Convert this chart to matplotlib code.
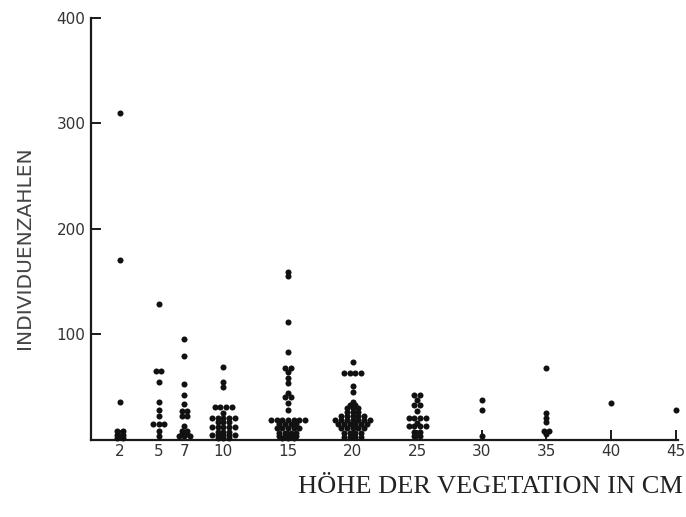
import matplotlib
matplotlib.use("Agg")
import matplotlib.pyplot as plt
from collections import Counter

# vegetation height (cm) -> individual counts
heights = [2, 5, 7, 10, 15, 20, 25, 30, 35, 40, 45]

h2 = [310, 170, 35, 8, 8, 4, 4, 1, 1]
h5 = [128, 65, 65, 54, 35, 28, 22, 14, 14, 14, 8, 3]
h7 = [95, 79, 52, 42, 33, 27, 27, 22, 22, 12, 8, 8, 5, 5, 3, 3, 3]
h10 = [68, 54, 49, 30, 30, 30, 30, 25, 20, 20, 20, 20, 20, 16, 16, 16,
       11, 11, 11, 11, 11, 7, 7, 7, 4, 4, 4, 4, 4, 1, 1, 1]
h15 = [159, 155, 111, 83, 67, 67, 64, 58, 53, 44, 40, 40, 34, 28,
       18, 18, 18, 18, 18, 18, 18, 14, 14, 14, 14, 10, 10, 10, 10, 10,
       6, 6, 6, 6, 3, 3, 3, 3, 1, 1, 1]
h20 = [73, 63, 63, 63, 63, 50, 45, 35, 32, 32, 29, 29, 29, 26, 26, 26,
       22, 22, 22, 22, 22, 18, 18, 18, 18, 18, 18, 18,
       14, 14, 14, 14, 14, 14, 10, 10, 10, 10, 10, 6, 6, 6, 6, 2, 2, 2, 2]
h25 = [42, 42, 37, 32, 32, 27, 20, 20, 20, 20, 15, 12, 12, 12, 12, 7, 7, 3, 3]
h30 = [37, 28, 3]
h35 = [67, 25, 20, 16, 8, 8, 5]
h40 = [34]
h45 = [28]

columns = [h2, h5, h7, h10, h15, h20, h25, h30, h35, h40, h45]

fig = plt.figure(figsize=(6.86, 5.17), dpi=100)
ax = fig.add_axes([0.1327, 0.1489, 0.855, 0.8162])

dx = 0.44
for h, vals in zip(heights, columns):
    cnt = Counter(vals)
    xs, ys = [], []
    for v, n in cnt.items():
        for i in range(n):
            xs.append(h + (i - (n - 1) / 2) * dx)
            ys.append(v)
    ax.scatter(xs, ys, s=19, color="#111111", linewidths=0, zorder=3, clip_on=False)

ax.set_xlim(-0.23, 45.15)
ax.set_ylim(-1, 400)

for s in ["top", "right"]:
    ax.spines[s].set_visible(False)
for s in ["left", "bottom"]:
    ax.spines[s].set_linewidth(1.6)
    ax.spines[s].set_color("#1a1a1a")

ax.set_xticks(heights)
ax.set_xticklabels([str(h) for h in heights])
ax.set_yticks([100, 200, 300, 400])
ax.tick_params(axis="both", direction="in", length=7, width=1.4, color="#1a1a1a",
               labelsize=11, labelcolor="#333333", pad=3)
ax.tick_params(axis="y", direction="out", length=0, pad=4)
# y ticks drawn inward as in the scan
for yv in [100, 200, 300, 400]:
    ax.plot([-0.23, 0.45], [yv, yv], color="#1a1a1a", lw=1.4, clip_on=False)

fig.text(0.035, 0.52, "INDIVIDUENZAHLEN", rotation=90, ha="center", va="center",
         fontsize=14.5, color="#444444", family="DejaVu Sans")
fig.text(0.996, 0.058, "HÖHE DER VEGETATION IN CM", ha="right", va="center",
         fontsize=19, color="#222222",
         family=["Liberation Serif", "DejaVu Serif"])

fig.savefig("out.png", dpi=100)
